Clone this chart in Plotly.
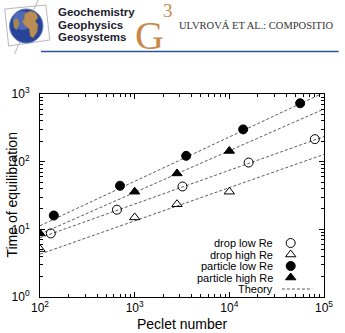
import plotly.graph_objects as go

# ---------------- data ----------------
pe_particle_low = [140, 700, 3500, 14000, 56000]
t_particle_low = [16, 44, 122, 300, 730]

pe_particle_high = [100, 1000, 2800, 10000]
t_particle_high = [8.7, 36, 67, 144]

pe_drop_low = [130, 650, 3200, 16000, 80000]
t_drop_low = [8.7, 19.5, 43, 97, 215]

pe_drop_high = [100, 1000, 2800, 10000]
t_drop_high = [5.1, 15, 23.5, 36]

theory_pe = [100, 100000]
theory_lines = [
    [11.3, 1050],
    [8.5, 600],
    [7.5, 235],
    [4.3, 128],
]

legend_labels = ["drop low Re", "drop high Re", "particle low Re", "particle high Re", "Theory"]
x_tickvals = [100, 1000, 10000, 100000]
x_ticktext = ["10<sup>2</sup>", "10<sup>3</sup>", "10<sup>4</sup>", "10<sup>5</sup>"]
y_tickvals = [1, 10, 100, 1000]
y_ticktext = ["10<sup>0</sup>", "10<sup>1</sup>", "10<sup>2</sup>", "10<sup>3</sup>"]

# ---------------- geometry (pixels) ----------------
FIG_W, FIG_H = 345, 333
L, R, T, B = 40, 330, 94, 297


def px(x):
    return (x - L) / (R - L)


def py(y):
    return (B - y) / (B - T)


FONT = "Liberation Sans, Arial, sans-serif"
SERIF = "Liberation Serif, Times New Roman, serif"

fig = go.Figure()

mk = dict(color="black", size=9, line=dict(color="black", width=1))

# theory lines
for vals in theory_lines:
    fig.add_trace(go.Scatter(x=theory_pe, y=vals, mode="lines",
                             line=dict(color="#333333", width=0.8, dash="3px,2px"),
                             showlegend=False, hoverinfo="skip"))

fig.add_trace(go.Scatter(x=pe_drop_low, y=t_drop_low, mode="markers",
                         marker=dict(symbol="circle-open", **mk), showlegend=False))
fig.add_trace(go.Scatter(x=pe_drop_high, y=t_drop_high, mode="markers",
                         marker=dict(symbol="triangle-up-open", **mk), showlegend=False))
fig.add_trace(go.Scatter(x=pe_particle_low, y=t_particle_low, mode="markers",
                         marker=dict(symbol="circle", **mk), showlegend=False))
fig.add_trace(go.Scatter(x=pe_particle_high, y=t_particle_high, mode="markers",
                         marker=dict(symbol="triangle-up", **mk), showlegend=False))

# ---------------- custom legend (text left, symbol right) ----------------
leg_y = [243, 254.5, 266, 277.5, 289]
leg_text_x = 280
leg_sym_x = 296
symbols = ["circle-open", "triangle-up-open", "circle", "triangle-up"]
for i, sym in enumerate(symbols):
    fig.add_trace(go.Scatter(x=[leg_sym_x], y=[leg_y[i]], xaxis="x2", yaxis="y2",
                             mode="markers", marker=dict(symbol=sym, **mk),
                             showlegend=False, hoverinfo="skip"))
fig.add_trace(go.Scatter(x=[287, 318], y=[leg_y[4], leg_y[4]], xaxis="x2", yaxis="y2",
                         mode="lines", line=dict(color="#333333", width=0.8, dash="3px,2px"),
                         showlegend=False, hoverinfo="skip"))

annotations = []
for i, lab in enumerate(legend_labels):
    annotations.append(dict(x=px(leg_text_x), y=py(leg_y[i]), xref="paper", yref="paper",
                            text=lab, showarrow=False, xanchor="right", yanchor="middle",
                            font=dict(family=FONT, size=11, color="black")))

# axis titles
annotations.append(dict(x=px(185), y=py(324), xref="paper", yref="paper", text="Peclet number",
                        showarrow=False, xanchor="center", yanchor="middle",
                        font=dict(family=FONT, size=14, color="black")))
annotations.append(dict(x=px(11), y=py(195), xref="paper", yref="paper", text="Time of equilibration",
                        showarrow=False, xanchor="center", yanchor="middle", textangle=-90,
                        font=dict(family=FONT, size=14, color="black")))

# ---------------- header ----------------
shapes = []
# cube wireframe
for (x0, y0, x1, y1) in [(4, 9, 46, 5), (46, 5, 50, 40), (50, 40, 8, 46), (8, 46, 4, 9),
                         (14, 54, 38, 0)]:
    shapes.append(dict(type="line", xref="paper", yref="paper", x0=px(x0), y0=py(y0),
                       x1=px(x1), y1=py(y1), line=dict(color="#b8b8b8", width=1)))
# globe
shapes.append(dict(type="circle", xref="paper", yref="paper", x0=px(9), y0=py(9), x1=px(43), y1=py(43),
                   fillcolor="#27449a", line=dict(color="#5c77b8", width=1)))
shapes.append(dict(type="circle", xref="paper", yref="paper", x0=px(12), y0=py(11), x1=px(32), y1=py(30),
                   fillcolor="#7f9ad6", opacity=0.45, line=dict(width=0)))


def path(pts):
    s = "M " + " L ".join(f"{px(a):.4f},{py(b):.4f}" for a, b in pts) + " Z"
    return s


shapes.append(dict(type="path", xref="paper", yref="paper",
                   path=path([(24, 14), (30, 11), (36, 13), (38, 18), (35, 21), (38, 25), (37, 32),
                              (33, 38), (30, 36), (29, 29), (25, 26), (22, 22), (24, 18)]),
                   fillcolor="#b98d54", line=dict(color="#8a6a3e", width=0.5)))
shapes.append(dict(type="path", xref="paper", yref="paper",
                   path=path([(13, 20), (17, 18), (19, 24), (16, 30), (13, 27)]),
                   fillcolor="#a88650", line=dict(width=0)))
# blue rule
shapes.append(dict(type="line", xref="paper", yref="paper", x0=px(41), y0=py(51.5), x1=px(345), y1=py(51.5),
                   line=dict(color="#2f4f9f", width=1.5)))

for txt, yy in [("Geochemistry", 12), ("Geophysics", 24.5), ("Geosystems", 37)]:
    annotations.append(dict(x=px(56), y=py(yy), xref="paper", yref="paper", text=f"<b>{txt}</b>",
                            showarrow=False, xanchor="left", yanchor="middle",
                            font=dict(family=FONT, size=11.5, color="#1d1d30")))
annotations.append(dict(x=px(152), y=py(35), xref="paper", yref="paper", text="G",
                        showarrow=False, xanchor="center", yanchor="middle",
                        font=dict(family=SERIF, size=40, color="#c9894c")))
annotations.append(dict(x=px(171), y=py(11), xref="paper", yref="paper", text="3",
                        showarrow=False, xanchor="center", yanchor="middle",
                        font=dict(family=SERIF, size=19, color="#c9894c")))
annotations.append(dict(x=px(180), y=py(25), xref="paper", yref="paper", text="ULVROVÁ ET AL.: COMPOSITIO",
                        showarrow=False, xanchor="left", yanchor="middle",
                        font=dict(family=SERIF, size=10.5, color="#333333")))

axis_common = dict(type="log", showline=True, linecolor="black", linewidth=1, mirror="ticks",
                   ticks="inside", ticklen=5, tickcolor="black", tickwidth=1,
                   showgrid=False, zeroline=False,
                   tickfont=dict(family=FONT, size=12, color="black"),
                   minor=dict(ticks="inside", ticklen=3, tickcolor="black", tickwidth=1,
                              dtick="D1", showgrid=False))

fig.update_layout(
    width=FIG_W, height=FIG_H,
    margin=dict(l=L, r=FIG_W - R, t=T, b=FIG_H - B),
    paper_bgcolor="white", plot_bgcolor="white",
    showlegend=False,
    xaxis=dict(range=[2, 5], tickmode="array", tickvals=x_tickvals, ticktext=x_ticktext,
               ticklabelstandoff=0, **axis_common),
    yaxis=dict(range=[0, 3], tickmode="array", tickvals=y_tickvals, ticktext=y_ticktext,
               ticklabelstandoff=7, **axis_common),
    xaxis2=dict(overlaying="x", range=[L, R], visible=False, anchor="y2"),
    yaxis2=dict(overlaying="y", range=[B, T], visible=False, anchor="x2"),
    shapes=shapes,
    annotations=annotations,
)

fig.write_html("out.html")
